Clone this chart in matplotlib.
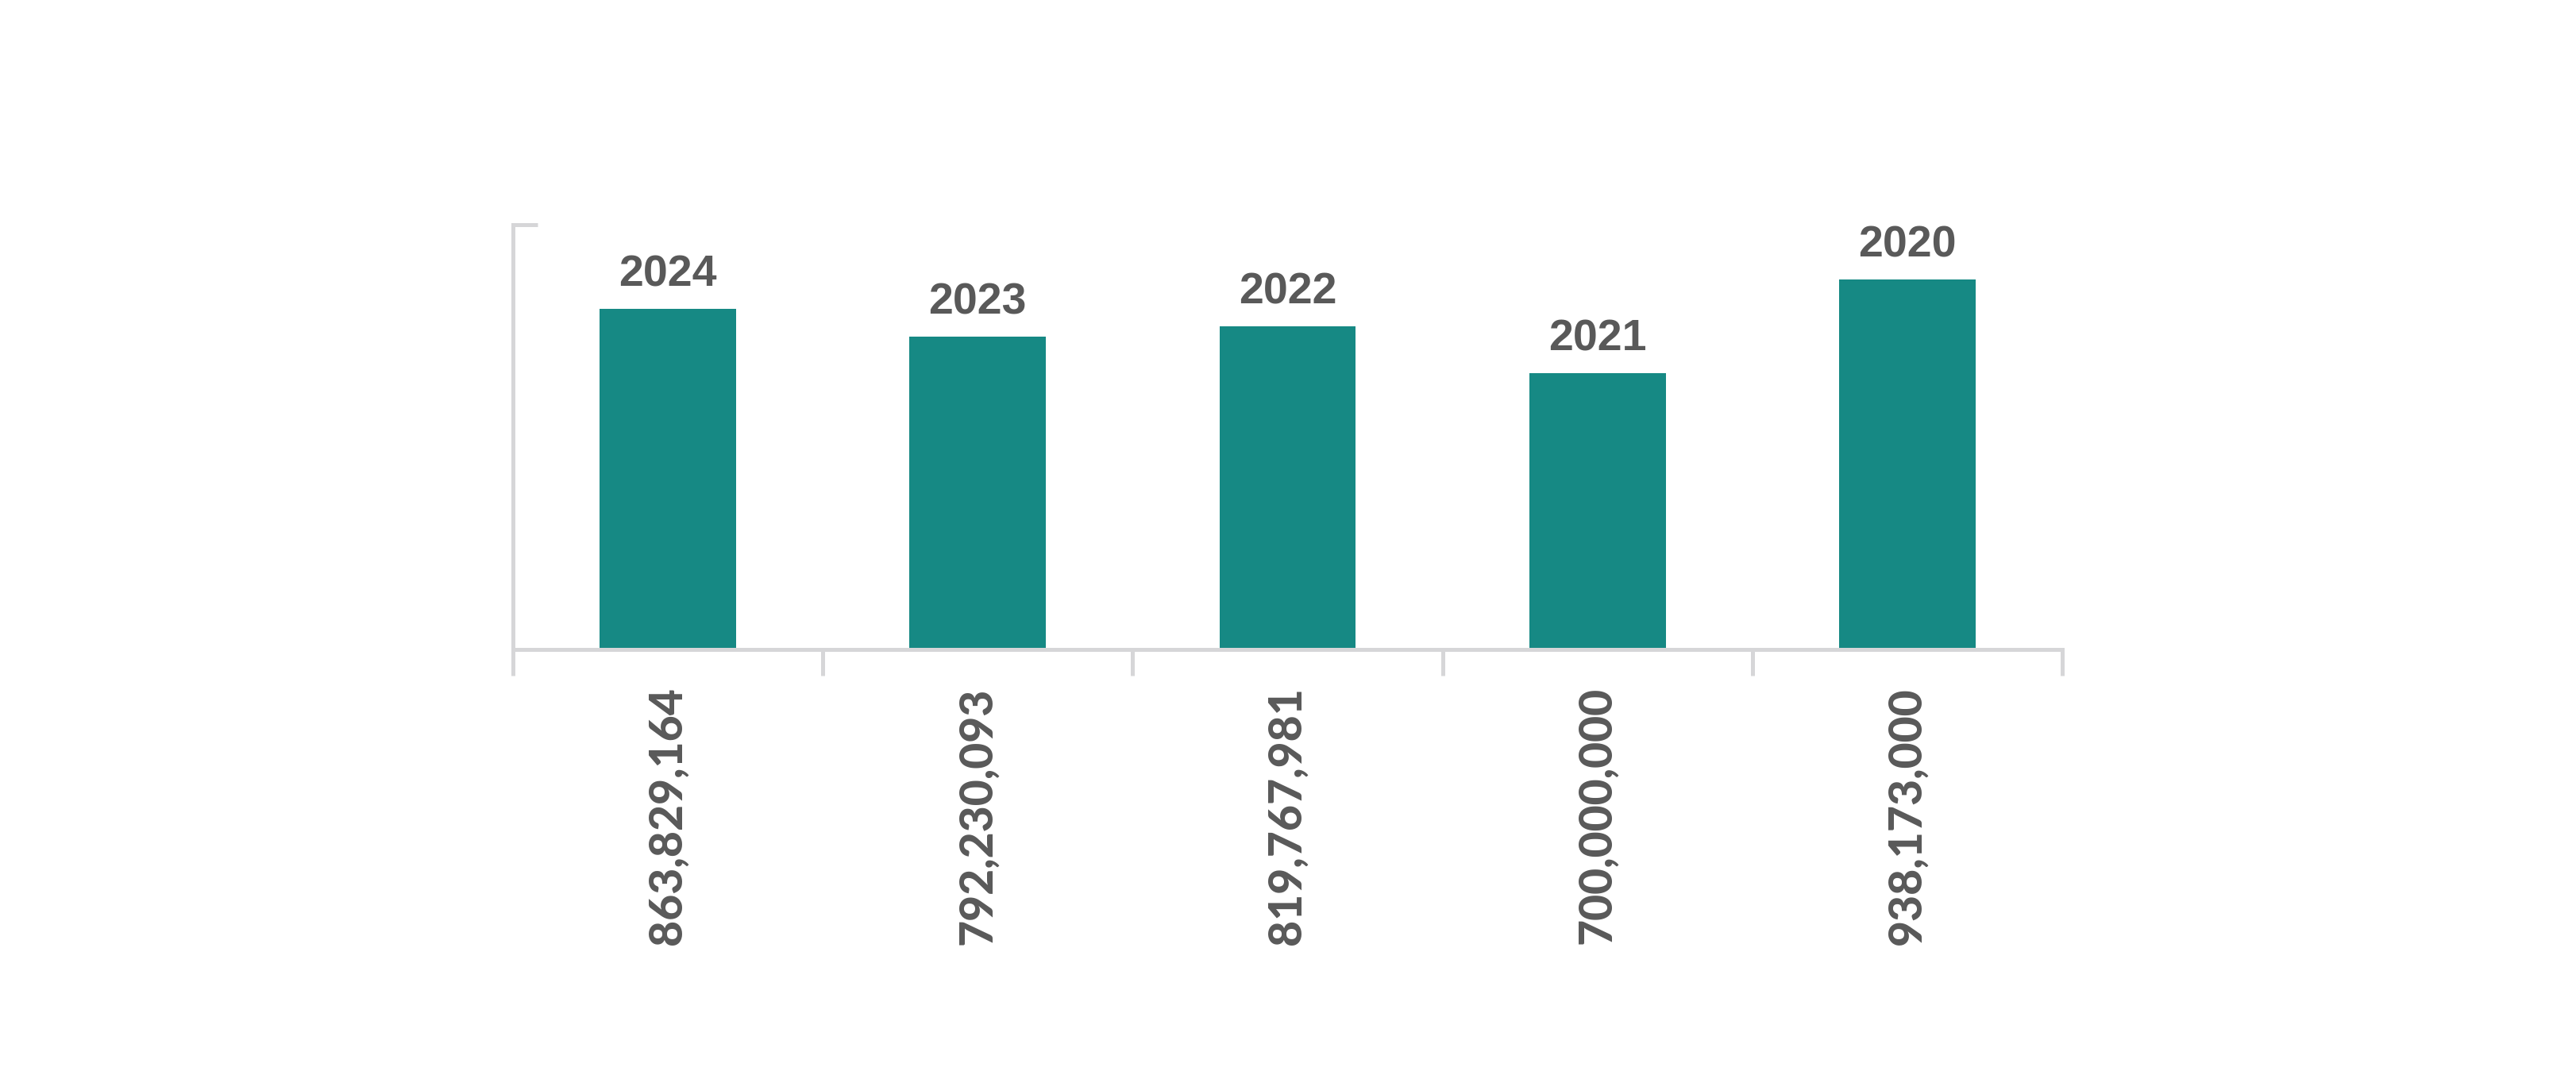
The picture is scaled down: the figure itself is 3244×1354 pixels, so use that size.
import matplotlib.pyplot as plt
from matplotlib.ticker import FixedLocator

years = ['2024', '2023', '2022', '2021', '2020']
amounts = [863829164, 792230093, 819767981, 700000000, 938173000]

bar_color = '#168984'
axis_color = '#d6d6d8'
text_color = '#595959'

fig = plt.figure(figsize=(16.22, 6.77), dpi=200)
ax = fig.add_axes([0.1991, 0.3959, 0.6015, 0.3951])

x = list(range(len(years)))
bars = ax.bar(x, amounts, width=0.44, color=bar_color, zorder=2)

ax.set_xlim(-0.5, len(years) - 0.5)
ax.set_ylim(0, 1.077e9)

# year above each bar
ax.bar_label(bars, labels=years, padding=6, fontsize=20, fontweight='bold',
             color=text_color, family=['Liberation Sans', 'DejaVu Sans'])

for side in ['top', 'right']:
    ax.spines[side].set_visible(False)
for side in ['left', 'bottom']:
    ax.spines[side].set_color(axis_color)
    ax.spines[side].set_linewidth(1.8)

# category boundaries as major ticks, amounts as labels at the centres
ax.xaxis.set_major_locator(FixedLocator([i - 0.5 for i in range(len(years) + 1)]))
ax.xaxis.set_major_formatter(plt.NullFormatter())
ax.xaxis.set_minor_locator(FixedLocator(x))
ax.set_xticklabels([f'{v:,}' for v in amounts], minor=True, rotation=90,
                   fontsize=20.5, fontweight='black', color=text_color,
                   family=['Lato', 'DejaVu Sans'], va='top')
ax.tick_params(axis='x', which='major', direction='out', length=12,
               width=1.8, color=axis_color)
ax.tick_params(axis='x', which='minor', length=0, pad=17)

ax.set_yticks([1.077e9])
ax.set_yticklabels([])
ax.tick_params(axis='y', direction='in', length=11, width=1.8, color=axis_color)

fig.savefig('out.png', dpi=200)
plt.close(fig)
